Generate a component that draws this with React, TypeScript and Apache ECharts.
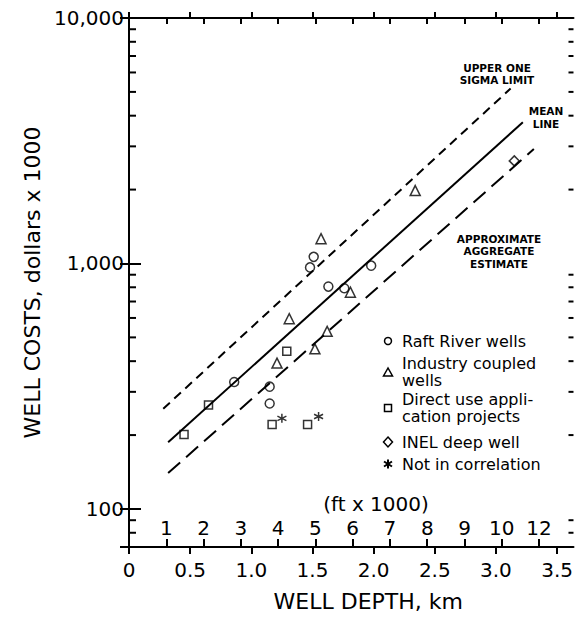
import React, { useEffect, useRef } from "react";
import * as echarts from "echarts";

// ---- axis ranges / ticks ----
const KM_PER_KFT = 0.3048;
const X_MIN = 0;
const X_MAX = 3.634;
const Y_MIN = 70;
const Y_MAX = 10000;
const kmTicks = [0, 0.5, 1, 1.5, 2, 2.5, 3, 3.5];
const kmTickLabels = ["0", "0.5", "1.0", "1.5", "2.0", "2.5", "3.0", "3.5"];
const ftTicks = [1, 2, 3, 4, 5, 6, 7, 8, 9, 10, 11];
const ftTickLabels = ["1", "2", "3", "4", "5", "6", "7", "8", "9", "10", "12"];
const yMinorTicks = [80, 90, 200, 300, 400, 500, 600, 700, 800, 900, 2000, 3000, 4000, 5000, 6000, 7000, 8000, 9000];

// ---- data (km, thousands of dollars) ----
const raftRiverWells = [[0.86, 329], [1.15, 269], [1.15, 315], [1.48, 964], [1.51, 1064], [1.63, 805], [1.76, 793], [1.98, 980]];
const industryCoupledWells = [[1.21, 393], [1.31, 596], [1.52, 449], [1.57, 1262], [1.62, 529], [1.81, 764], [2.34, 1982]];
const directUseProjects = [[0.45, 201], [0.65, 265], [1.17, 221], [1.29, 439], [1.46, 221]];
const inelDeepWell = [[3.15, 2618]];
const notInCorrelation = [[1.25, 234], [1.55, 238]];

const upperSigmaLine = [[0.28, 256], [3.12, 5160]];
const meanLine = [[0.32, 187], [3.22, 3760]];
const aggregateEstimateLine = [[0.32, 140], [3.31, 2925]];

const FONT = "DejaVu Sans";
const BLACK = "#000";

const starPath = "path://M0,-5L0,5M-4.33,-2.5L4.33,2.5M-4.33,2.5L4.33,-2.5";

function App() {
  const ref = useRef<HTMLDivElement>(null);

  useEffect(() => {
    document.body.style.margin = "0";
    if (!ref.current) return;
    const chart = echarts.init(ref.current, null, { renderer: "svg" });

    const openStyle = { color: "rgba(0,0,0,0)", borderColor: BLACK, borderWidth: 1.5 };
    const scatter = (name: string, data: number[][], symbol: string, size: number) => ({
      name,
      type: "scatter",
      xAxisIndex: 0,
      yAxisIndex: 0,
      data,
      symbol,
      symbolSize: size,
      itemStyle: openStyle,
      z: 5,
    });
    const line = (name: string, data: number[][], type: any) => ({
      name,
      type: "line",
      xAxisIndex: 0,
      yAxisIndex: 0,
      data,
      symbol: "none",
      lineStyle: { color: BLACK, width: 2, type },
      z: 3,
    });

    const txt = (text: string, x: number, y: number, opts: any = {}) => ({
      type: "text",
      style: {
        text,
        x,
        y,
        fill: BLACK,
        fontFamily: FONT,
        fontSize: 16,
        lineHeight: 17.6,
        textAlign: "left",
        textVerticalAlign: "middle",
        ...opts,
      },
    });
    const annot = { fontSize: 10.5, fontWeight: "bold", textAlign: "center", lineHeight: 12 };
    const mk = { fill: "none", stroke: BLACK, lineWidth: 1.5 };

    const lx = 388;
    const tx = 402;

    const option: any = {
      animation: false,
      backgroundColor: "#fff",
      grid: { left: 129, top: 18, width: 448, height: 533, containLabel: false },
      xAxis: [
        {
          type: "value",
          position: "bottom",
          min: X_MIN,
          max: X_MAX,
          name: "WELL DEPTH, km",
          nameLocation: "middle",
          nameGap: 43,
          nameTextStyle: { fontSize: 22, color: BLACK, fontFamily: FONT, padding: [0, 0, 0, 34] },
          axisLine: { show: true, lineStyle: { color: BLACK, width: 2 } },
          axisTick: { show: true, inside: false, length: 7, customValues: kmTicks, lineStyle: { color: BLACK, width: 2 } },
          axisLabel: {
            show: true,
            customValues: kmTicks,
            margin: 13,
            fontSize: 20,
            color: BLACK,
            fontFamily: FONT,
            formatter: (v: number) => kmTickLabels[kmTicks.indexOf(v)] ?? "",
          },
          splitLine: { show: false },
        },
        {
          type: "value",
          position: "top",
          min: X_MIN,
          max: X_MAX,
          axisLine: { show: true, lineStyle: { color: BLACK, width: 2 } },
          axisTick: { show: true, inside: false, length: 6, customValues: kmTicks, lineStyle: { color: BLACK, width: 2 } },
          axisLabel: { show: false },
          splitLine: { show: false },
        },
        {
          type: "value",
          position: "bottom",
          min: X_MIN / KM_PER_KFT,
          max: X_MAX / KM_PER_KFT,
          axisLine: { show: false },
          axisTick: { show: true, inside: true, length: 8, customValues: ftTicks, lineStyle: { color: BLACK, width: 2 } },
          axisLabel: {
            show: true,
            inside: true,
            customValues: ftTicks,
            margin: 9,
            fontSize: 20,
            color: BLACK,
            fontFamily: FONT,
            formatter: (v: number) => ftTickLabels[ftTicks.indexOf(v)] ?? "",
          },
          splitLine: { show: false },
        },
        {
          type: "value",
          position: "top",
          min: X_MIN / KM_PER_KFT,
          max: X_MAX / KM_PER_KFT,
          axisLine: { show: false },
          axisTick: { show: true, inside: true, length: 6, customValues: ftTicks, lineStyle: { color: BLACK, width: 2 } },
          axisLabel: { show: false },
          splitLine: { show: false },
        },
      ],
      yAxis: [
        {
          type: "log",
          logBase: 10,
          position: "left",
          min: Y_MIN,
          max: Y_MAX,
          name: "WELL COSTS, dollars x 1000",
          nameLocation: "middle",
          nameGap: 86,
          nameRotate: 90,
          nameTextStyle: { fontSize: 22, color: BLACK, fontFamily: FONT },
          axisLine: { show: true, lineStyle: { color: BLACK, width: 2 } },
          axisTick: { show: true, inside: true, length: 12, lineStyle: { color: BLACK, width: 2 } },
          axisLabel: {
            show: true,
            showMinLabel: false,
            margin: 5,
            fontSize: 20,
            color: BLACK,
            fontFamily: FONT,
            formatter: (v: number) => echarts.format.addCommas(Math.round(v)),
          },
          splitLine: { show: false },
        },
        {
          type: "log",
          logBase: 10,
          position: "right",
          min: Y_MIN,
          max: Y_MAX,
          axisLine: { show: false },
          axisTick: { show: true, inside: true, length: 9, lineStyle: { color: BLACK, width: 2 } },
          axisLabel: { show: false },
          splitLine: { show: false },
        },
      ],
      series: [
        line("Upper one sigma limit", upperSigmaLine, [9, 6]),
        line("Mean line", meanLine, "solid"),
        line("Approximate aggregate estimate", aggregateEstimateLine, [16, 8]),
        scatter("Raft River wells", raftRiverWells, "circle", 9),
        scatter("Industry coupled wells", industryCoupledWells, "triangle", 10),
        scatter("Direct use application projects", directUseProjects, "rect", 8),
        scatter("INEL deep well", inelDeepWell, "diamond", 10),
        scatter("Not in correlation", notInCorrelation, starPath, 9),
        {
          name: "minor ticks",
          type: "custom",
          xAxisIndex: 0,
          yAxisIndex: 0,
          silent: true,
          clip: false,
          data: yMinorTicks.map((v) => [X_MIN, v]),
          renderItem: (_p: any, api: any) => {
            const v = api.value(1);
            const l = api.coord([X_MIN, v]);
            const r = api.coord([X_MAX, v]);
            return {
              type: "group",
              children: [
                { type: "line", shape: { x1: l[0], y1: l[1], x2: l[0] + 7, y2: l[1] }, style: { stroke: BLACK, lineWidth: 2 } },
                { type: "line", shape: { x1: r[0], y1: r[1], x2: r[0] - 5, y2: r[1] }, style: { stroke: BLACK, lineWidth: 2 } },
              ],
            };
          },
        },
      ],
      graphic: [
        txt("(ft x 1000)", 376, 504, { fontSize: 20, lineHeight: 22, textAlign: "center" }),
        txt("UPPER ONE\nSIGMA LIMIT", 497, 74, annot),
        txt("MEAN\nLINE", 546, 117, { ...annot, lineHeight: 13 }),
        txt("APPROXIMATE\nAGGREGATE\nESTIMATE", 499, 251, { ...annot, lineHeight: 12.5 }),
        // legend
        { type: "circle", shape: { cx: lx, cy: 341, r: 3.5 }, style: mk },
        { type: "polygon", shape: { points: [[lx, 368], [lx - 4.5, 376], [lx + 4.5, 376]] }, style: mk },
        { type: "rect", shape: { x: lx - 3.5, y: 404.5, width: 7, height: 7 }, style: mk },
        { type: "polygon", shape: { points: [[lx, 437], [lx + 4.5, 442], [lx, 447], [lx - 4.5, 442]] }, style: mk },
        {
          type: "group",
          children: [
            { type: "line", shape: { x1: lx, y1: 459.5, x2: lx, y2: 468.5 }, style: { stroke: BLACK, lineWidth: 2 } },
            { type: "line", shape: { x1: lx - 4, y1: 461.5, x2: lx + 4, y2: 466.5 }, style: { stroke: BLACK, lineWidth: 2 } },
            { type: "line", shape: { x1: lx - 4, y1: 466.5, x2: lx + 4, y2: 461.5 }, style: { stroke: BLACK, lineWidth: 2 } },
          ],
        },
        txt("Raft River wells", tx, 341),
        txt("Industry coupled\nwells", tx, 372),
        txt("Direct use appli-\ncation projects", tx, 408),
        txt("INEL deep well", tx, 442),
        txt("Not in correlation", tx, 464),
      ],
    };

    chart.setOption(option);
    return () => chart.dispose();
  }, []);

  return <div ref={ref} style={{ width: 576, height: 617 }} />;
}

export default App;
